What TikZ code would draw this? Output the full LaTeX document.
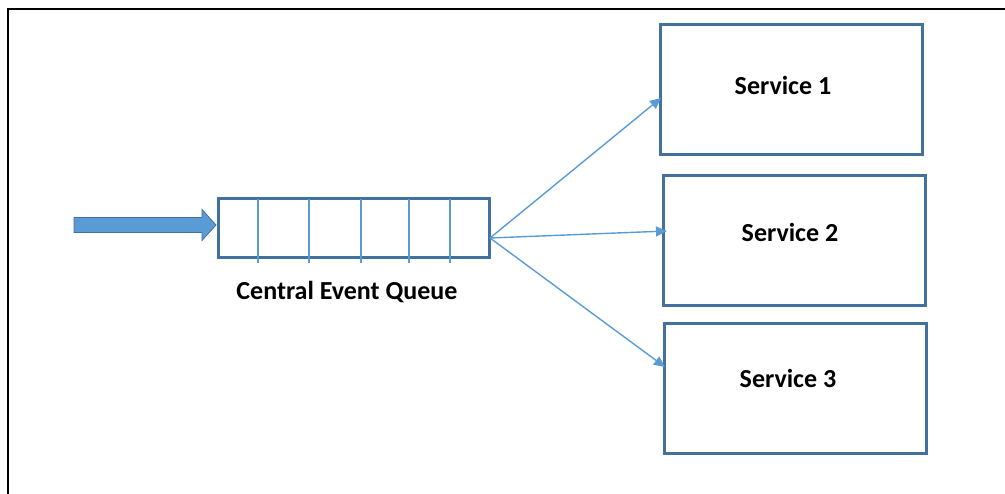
\documentclass[tikz,border=0pt]{standalone}
\usepackage{fontspec}
\setmainfont{Carlito}
\usetikzlibrary{arrows.meta}
\definecolor{boxblue}{HTML}{41719C}
\definecolor{lineblue}{HTML}{5B9BD5}
\tikzset{
  svcbox/.style={draw=boxblue, line width=3pt, minimum width=262pt, minimum height=130pt, inner sep=0pt},
  svclabel/.style={font=\bfseries\fontsize{26}{30}\selectfont, text=black},
  flow/.style={draw=lineblue, line width=1.4pt, -{Triangle[length=11pt,width=10pt]}},
  divider/.style={draw=lineblue, line width=1.4pt},
  frame/.style={draw=black, line width=2.5pt},
  fatarrow/.style={fill=lineblue, draw=boxblue, line width=0.8pt, line join=miter}
}
\begin{document}
\begin{tikzpicture}[x=1pt,y=-1pt]
\useasboundingbox (0,0) rectangle (1005,494);
% outer frame (left and top only visible)
\coordinate (fbl) at (8,494);
\coordinate (ftl) at (8,9);
\coordinate (ftr) at (1005,9);
\draw[frame] (fbl) -- (ftl) -- (ftr);
% queue
\node[draw=boxblue, line width=3pt, minimum width=271pt, minimum height=59pt, inner sep=0pt, anchor=north west] (queue) at (216.5,197.5) {};
\foreach \xx/\nm in {258/d1,309/d2,361/d3,409/d4,450/d5}{
  \coordinate (\nm t) at (\xx,199);
  \coordinate (\nm b) at (\xx,263);
  \draw[divider] (\nm t) -- (\nm b);
}
\node[svclabel, anchor=center] (qlabel) at (347,292) {Central Event Queue};
% input arrow
\coordinate (instart) at (74,225);
\coordinate (intip) at (216,225);
\draw[fatarrow] (instart) ++(0,-7.5) -- ++(128,0) -- ++(0,-8) -- (intip) -- ++(-14,15.5) -- ++(0,-8) -- ++(-128,0) -- cycle;
% services
\node[svcbox] (s1) at (791.5,89.5) {};
\node[svclabel] at (783,85) {Service 1};
\node[svcbox] (s2) at (794,241) {};
\node[svclabel] at (790,232) {Service 2};
\node[svcbox] (s3) at (795.5,388.5) {};
\node[svclabel] at (788,378) {Service 3};
% connectors
\coordinate (qout) at (490,238);
\coordinate (t1) at (661,98);
\coordinate (t2) at (667,231);
\coordinate (t3) at (665,367);
\draw[flow] (qout) -- (t1);
\draw[flow] (qout) -- (t2);
\draw[flow] (qout) -- (t3);
\end{tikzpicture}
\end{document}
